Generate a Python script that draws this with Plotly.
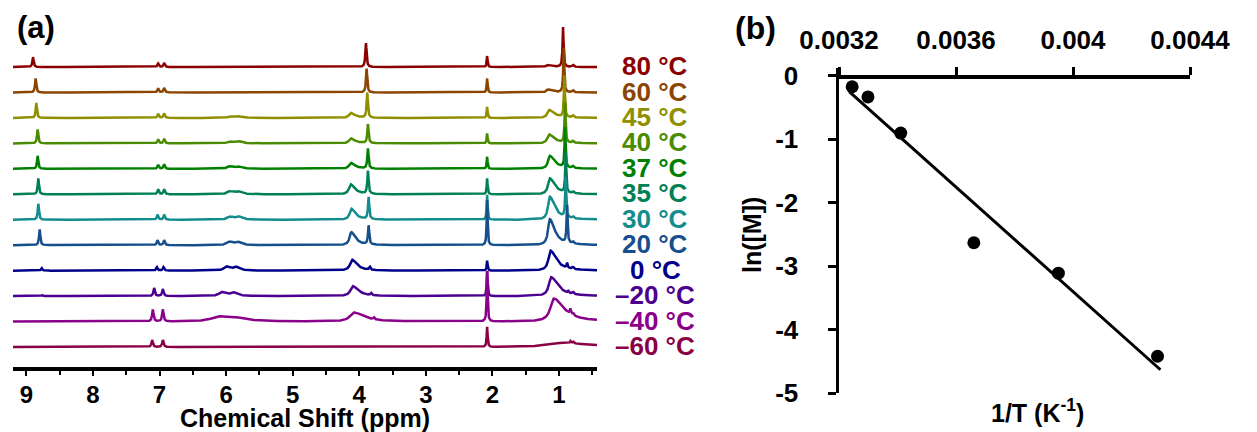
import numpy as np
import plotly.graph_objects as go

W, H = 1257, 432

# ---------------- panel (a): variable-temperature 1H NMR ----------------
temps = ["80 °C", "60 °C", "45 °C", "40 °C", "37 °C", "35 °C",
         "30 °C", "20 °C", "0 °C", "–20 °C", "–40 °C", "–60 °C"]
colors = ["#8b0000", "#8b4500", "#8f8f00", "#4b8b00", "#008000", "#008055",
          "#128c8c", "#164f8c", "#00008b", "#4b0090", "#8b008b", "#8b0045"]

# peak positions (ppm) and intensities (a.u.) for each temperature, top to bottom
nh_pos = [8.90, 8.86, 8.85, 8.83, 8.83, 8.82, 8.82, 8.80, 8.77, 8.76, 8.75, 8.75]
nh_int = [10, 14, 14, 14, 13, 16, 16, 16, 2.5, 1, 0, 0]
ar1_pos = [7.02, 7.02, 7.02, 7.02, 7.02, 7.02, 7.03, 7.03, 7.04, 7.08, 7.10, 7.11]
ar1_int = [3.5, 4, 4, 4, 4, 5, 5, 5, 3.5, 8, 12, 7]
ar2_pos = [6.93, 6.93, 6.93, 6.93, 6.93, 6.93, 6.93, 6.93, 6.94, 6.95, 6.95, 6.95]
ar2_int = [4, 4.5, 4.5, 4.5, 4.5, 5, 5, 5, 3.5, 7, 12, 7]
v1_pos = [5.95, 5.95, 5.95, 5.95, 5.95, 5.95, 5.95, 5.96, 6.00, 6.07, 6.12, 6.10]
v1_int = [0, 0, 1.5, 2, 2.5, 3, 3, 3.5, 4, 4, 4.5, 0]
v2_pos = [5.82, 5.82, 5.82, 5.82, 5.82, 5.82, 5.82, 5.83, 5.86, 5.90, 5.88, 5.90]
v2_int = [0, 0, 1.5, 2, 2, 2.5, 3, 3, 3.5, 3.5, 3, 0]
v_wid = [0.08, 0.08, 0.08, 0.08, 0.08, 0.08, 0.08, 0.08, 0.08, 0.09, 0.25, 0.25]
och_pos = [4.12, 4.12, 4.13, 4.13, 4.13, 4.13, 4.12, 4.12, 4.11, 4.10, 4.08, 4.10]
och_int = [0, 0, 5, 5, 6, 10, 11, 13, 11, 10, 9, 0]
och_wid = [0.06, 0.06, 0.06, 0.06, 0.06, 0.06, 0.06, 0.06, 0.07, 0.08, 0.14, 0.2]
ome_pos = [3.90, 3.89, 3.88, 3.87, 3.87, 3.87, 3.86, 3.86, 3.84, 3.82, 3.78, 3.78]
ome_int = [24, 24, 25, 19, 20, 23, 22, 19, 3, 2, 2, 0]
ac_pos = [2.08] * 12
ac_int = [11, 14, 11, 10, 12, 16, 25, 45, 10, 25, 50, 20]
ch_pos = [1.18, 1.17, 1.15, 1.15, 1.14, 1.14, 1.14, 1.14, 1.13, 1.12, 1.08, 1.02]
ch_int = [2, 3, 8, 9, 13, 16, 23, 26, 20, 19, 23, 4]
ch_wid = [0.05, 0.05, 0.06, 0.06, 0.06, 0.06, 0.06, 0.06, 0.07, 0.08, 0.12, 0.4]
me_pos = [0.94, 0.93, 0.92, 0.91, 0.91, 0.90, 0.90, 0.88, 0.88, 0.86, 0.83, 0.83]
me_int = [40, 45, 42, 40, 40, 40, 40, 38, 5, 2, 5, 2]
sm_pos = [0.79] * 12
sm_int = [2] * 12

# ---------------- panel (b): ln[M] vs 1/T ----------------
inv_T = [0.003245, 0.003299, 0.003411, 0.003661, 0.003950, 0.004289]
ln_M = [-0.17, -0.33, -0.90, -2.63, -3.11, -4.42]
xb_ticks = [0.0032, 0.0036, 0.0040, 0.0044]
xb_text = ["0.0032", "0.0036", "0.004", "0.0044"]
yb_ticks = [0, -1, -2, -3, -4, -5]
yb_text = ["0", "-1", "-2", "-3", "-4", "-5"]

FONT = "Arial, Liberation Sans, sans-serif"


def lorentz(x, x0, h, w, asym=1.0):
    hw = np.where(x >= x0, w / 2.0, w * asym / 2.0)
    return h / (1.0 + ((x - x0) / hw) ** 2)


ppm = np.linspace(9.20, 0.43, 4200)
n = len(temps)
spacing = 25.45

fig = go.Figure()
for i, t in enumerate(temps):
    s = np.zeros_like(ppm)
    s += lorentz(ppm, nh_pos[i], nh_int[i], 0.022)
    s += lorentz(ppm, ar1_pos[i], ar1_int[i], 0.025)
    s += lorentz(ppm, ar2_pos[i], ar2_int[i], 0.025)
    s += lorentz(ppm, v1_pos[i], v1_int[i], v_wid[i], 1.6)
    s += lorentz(ppm, v2_pos[i], v2_int[i], v_wid[i], 1.6)
    s += lorentz(ppm, och_pos[i], och_int[i], och_wid[i], 2.5)
    s += lorentz(ppm, ome_pos[i], ome_int[i], 0.022)
    s += lorentz(ppm, ac_pos[i], ac_int[i], 0.016)
    s += lorentz(ppm, ch_pos[i], ch_int[i], ch_wid[i], 3.0)
    s += lorentz(ppm, me_pos[i], me_int[i], 0.018)
    s += lorentz(ppm, sm_pos[i], sm_int[i], 0.03)
    off = (n - 1 - i) * spacing
    fig.add_trace(go.Scatter(x=ppm, y=s + off, mode="lines",
                             line=dict(color=colors[i], width=2.5),
                             xaxis="x", yaxis="y", showlegend=False,
                             hoverinfo="skip"))
    fig.add_annotation(x=655 / W, xref="paper", y=off + 1, yref="y",
                       text=f"<b>{t}</b>", showarrow=False,
                       xanchor="center", yanchor="middle",
                       font=dict(family=FONT, size=26, color=colors[i]))

# linear fit
xb = np.array(inv_T)
yb = np.array(ln_M)
k, b0 = np.polyfit(xb, yb, 1)
xf = np.array([xb.min() - 0.00001, xb.max() + 0.00001])
fig.add_trace(go.Scatter(x=xf, y=k * xf + b0, mode="lines",
                         line=dict(color="black", width=3),
                         xaxis="x2", yaxis="y2", showlegend=False))
fig.add_trace(go.Scatter(x=inv_T, y=ln_M, mode="markers",
                         marker=dict(color="black", size=13),
                         xaxis="x2", yaxis="y2", showlegend=False))

tick_a = dict(family=FONT, size=24, color="black", weight="bold")
tick_b = dict(family=FONT, size=26, color="black", weight="bold")

fig.update_layout(
    width=W, height=H,
    margin=dict(l=0, r=0, t=0, b=0, pad=0, autoexpand=False),
    paper_bgcolor="white", plot_bgcolor="white",
    showlegend=False,
    xaxis=dict(domain=[13 / W, 597 / W], range=[9.20, 0.43], anchor="y",
               automargin=False,
               showline=True, linewidth=4, linecolor="black",
               ticks="outside", ticklen=5, tickwidth=2, tickcolor="black",
               tickmode="linear", tick0=1, dtick=1,
               minor=dict(ticks="outside", ticklen=4, tickwidth=2,
                          tickcolor="black", dtick=0.5, tick0=0.5),
               showgrid=False, zeroline=False, tickfont=tick_a,
               ticklabelstandoff=-2),
    yaxis=dict(domain=[(H - 367) / H, (H - 20) / H], range=[-20, 327],
               visible=False, fixedrange=True, automargin=False),
    xaxis2=dict(domain=[839 / W, 1190 / W], range=[0.0032, 0.0044],
                anchor="free", position=(H - 76) / H, side="top",
                automargin=False,
                showline=True, linewidth=3.5, linecolor="black",
                ticks="outside", ticklen=8, tickwidth=3, tickcolor="black",
                tickmode="array", tickvals=xb_ticks, ticktext=xb_text,
                showgrid=False, zeroline=False, tickfont=tick_b,
                ticklabelstandoff=8),
    yaxis2=dict(domain=[(H - 393) / H, (H - 68) / H], range=[-5, 0.126],
                anchor="x2", automargin=False,
                showline=True, linewidth=3.5, linecolor="black",
                ticks="outside", ticklen=8, tickwidth=3, tickcolor="black",
                tickmode="array", tickvals=yb_ticks, ticktext=yb_text,
                showgrid=False, zeroline=False, tickfont=tick_b,
                ticklabelstandoff=24),
)

fig.add_annotation(x=305 / W, y=1 - 418 / H, xref="paper", yref="paper",
                   text="<b>Chemical Shift (ppm)</b>", showarrow=False,
                   xanchor="center", yanchor="middle",
                   font=dict(family=FONT, size=25, color="black"))
fig.add_annotation(x=36 / W, y=1 - 28 / H, xref="paper", yref="paper",
                   text="<b>(a)</b>", showarrow=False, xanchor="center",
                   yanchor="middle", font=dict(family=FONT, size=31, color="black"))
fig.add_annotation(x=755 / W, y=1 - 28 / H, xref="paper", yref="paper",
                   text="<b>(b)</b>", showarrow=False, xanchor="center",
                   yanchor="middle", font=dict(family=FONT, size=32, color="black"))
fig.add_annotation(x=752 / W, y=1 - 235 / H, xref="paper", yref="paper",
                   text="<b>ln([M])</b>", showarrow=False, textangle=-90,
                   xanchor="center", yanchor="middle",
                   font=dict(family=FONT, size=25, color="black"))
fig.add_annotation(x=1037 / W, y=1 - 411 / H, xref="paper", yref="paper",
                   text="<b>1/T (K<sup>-1</sup>)</b>", showarrow=False,
                   xanchor="center", yanchor="middle",
                   font=dict(family=FONT, size=25, color="black"))

fig.write_html("out.html",
               config={"displayModeBar": False, "staticPlot": True},
               post_script="document.body.style.margin='0';"
                           "document.body.style.overflow='hidden';")
